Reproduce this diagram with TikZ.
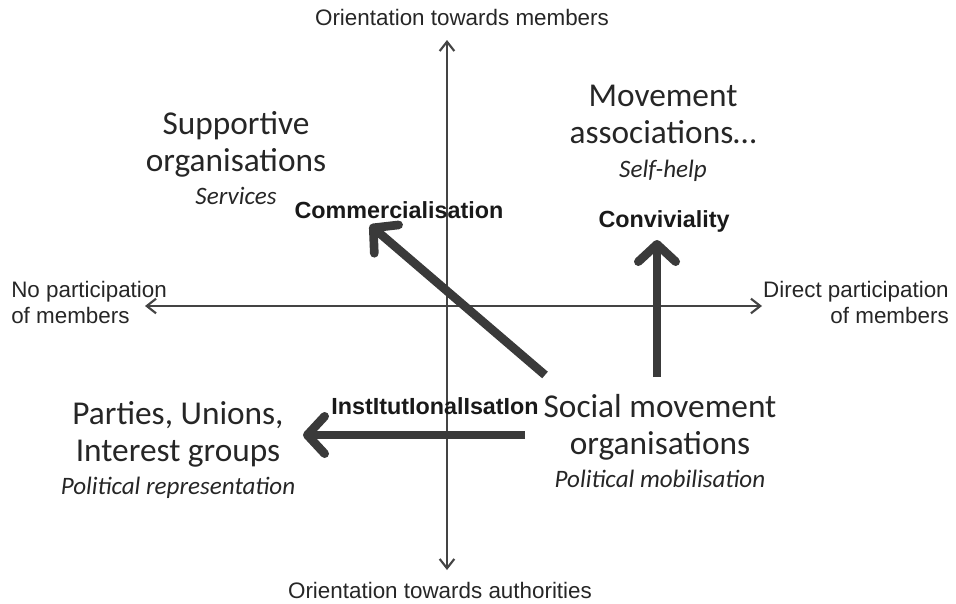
\documentclass[tikz,border=0pt]{standalone}
\usepackage{fontspec}
\setmainfont{Carlito}
\newfontfamily\axisfont{Liberation Sans}
\usetikzlibrary{arrows.meta}

\definecolor{axisgray}{HTML}{444444}
\definecolor{shiftgray}{HTML}{3A3A3A}

\newcommand{\typesub}[1]{{\itshape\fontsize{18.8}{22}\selectfont #1}}

\tikzset{
  axisline/.style={draw=axisgray, line width=1.6pt, -{Straight Barb[length=7pt,width=11pt,line width=1.6pt]}},
  shiftarrow/.style={draw=shiftgray, line width=6.5pt, -{Straight Barb[length=13pt,width=28pt,round]}},
  axislabel/.style={inner sep=0.75pt, font=\axisfont\fontsize{16.8}{19.5}\selectfont, text=black!85},
  typelabel/.style={inner sep=0.75pt, align=center, font=\fontsize{25}{28}\selectfont, text=black!85},
  shiftlabel/.style={inner sep=0.75pt, font=\axisfont\bfseries\fontsize{17.5}{20}\selectfont, text=black!90}
}

\begin{document}
\begin{tikzpicture}[x=0.75pt,y=0.75pt,yscale=-1,xscale=1]
\useasboundingbox (0,0) rectangle (956,603);

% axes
\coordinate (top) at (447,40);
\coordinate (bottom) at (447,570);
\coordinate (left) at (145,306);
\coordinate (right) at (762,306);
\coordinate (origin) at (447,306);
\draw[axisline] (origin) -- (top);
\draw[axisline] (origin) -- (bottom);
\draw[axisline] (origin) -- (left);
\draw[axisline] (origin) -- (right);

% axis labels
\draw (462,17) node [axislabel] (members) {Orientation towards members};
\draw (440,590) node [axislabel] (authorities) {Orientation towards authorities};
\draw (10,302) node [axislabel,anchor=west,align=left] (noparticip) {No participation\\of members};
\draw (950,302) node [axislabel,anchor=east,align=right] (directparticip) {Direct participation\\of members};

% organisation types
\draw (236,158) node [typelabel] (supportive) {Supportive\\organisations\\[-3pt]\typesub{Services}};
\draw (663,133) node [typelabel] (movementassoc) {Movement\\associations…\\[-3pt]\typesub{Self-help}};
\draw (660,441) node [typelabel] (smo) {Social movement\\organisations\\[-3pt]\typesub{Political mobilisation}};
\draw (178,450) node [typelabel] (parties) {Parties, Unions,\\Interest groups\\[-3pt]\typesub{Political representation}};

% shifts
\coordinate (commstart) at (545,375);
\coordinate (commend) at (370,225);
\coordinate (convstart) at (657,377);
\coordinate (convend) at (657,240);
\coordinate (inststart) at (525,435);
\coordinate (instend) at (303,435);
\draw[shiftarrow] (commstart) -- (commend);
\draw[shiftarrow] (convstart) -- (convend);
\draw[shiftarrow] (inststart) -- (instend);

\draw (399,210) node [shiftlabel] (commercial) {Commercialisation};
\draw (664,221) node [shiftlabel] (convivial) {Conviviality};
\draw (435,406) node [shiftlabel] (institutional) {InstItutIonalIsatIon};

\end{tikzpicture}
\end{document}
